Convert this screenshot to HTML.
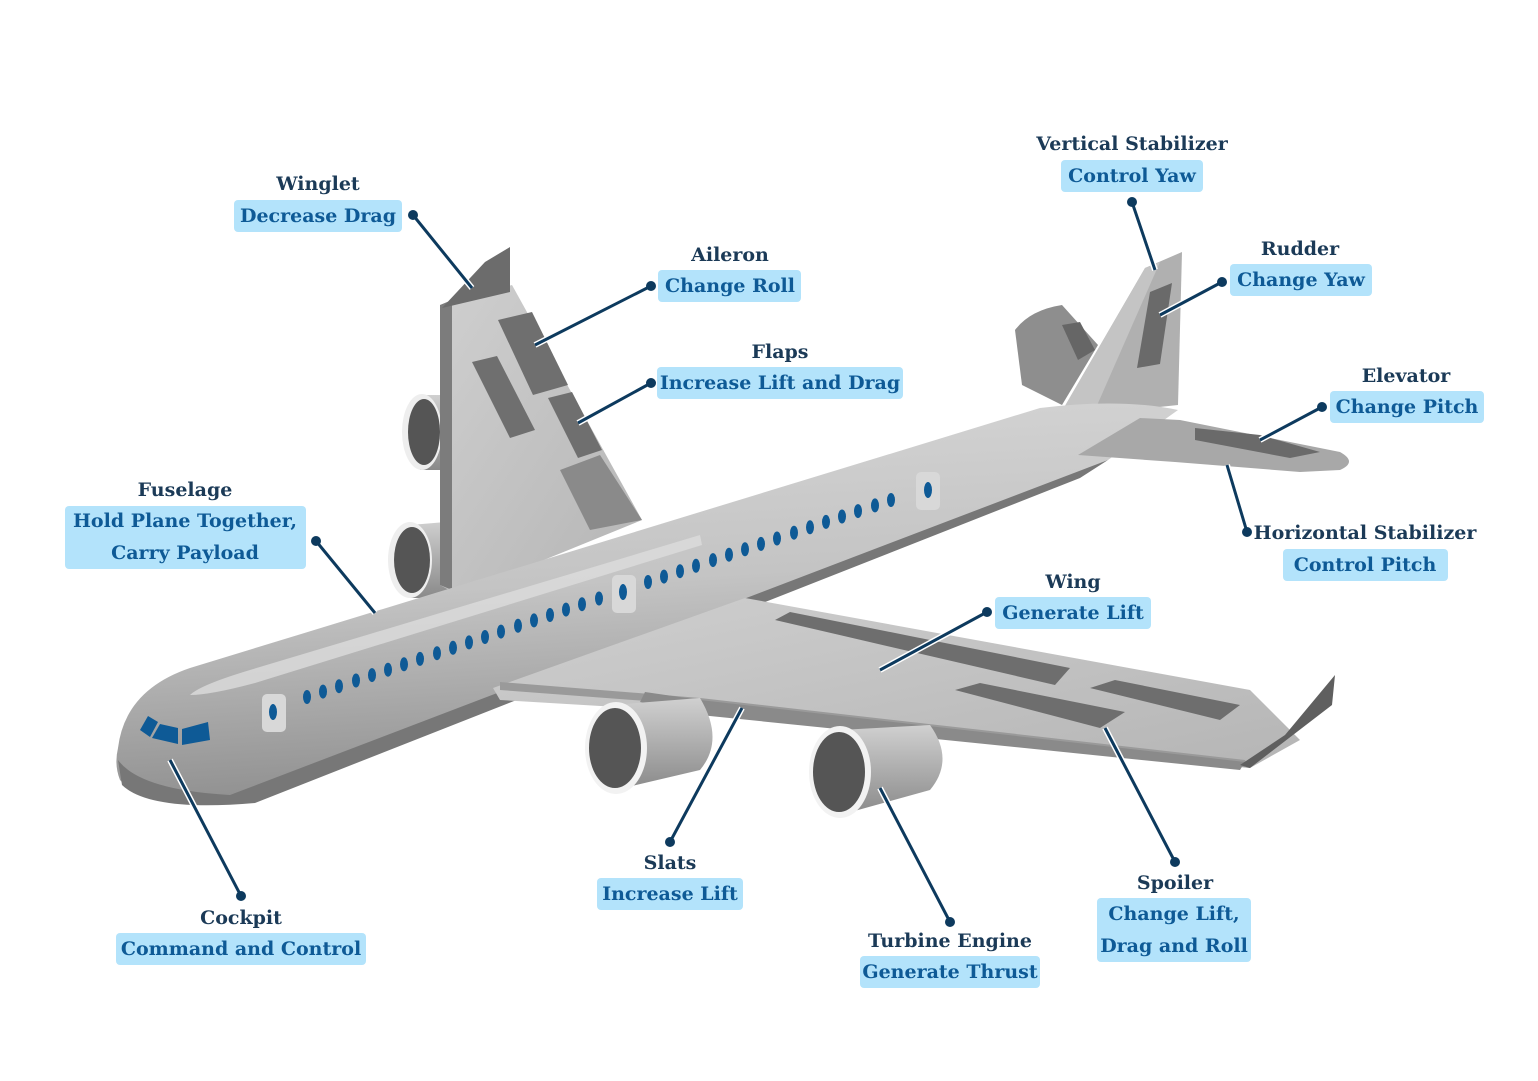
<!DOCTYPE html>
<html><head><meta charset="utf-8"><style>
html,body{margin:0;padding:0;background:#fff;}
svg{display:block}
.t{font-family:"DejaVu Serif","Liberation Serif",serif;font-weight:bold;font-size:19px;fill:#1b3a57;text-anchor:middle}
.b{font-family:"DejaVu Serif","Liberation Serif",serif;font-weight:bold;font-size:19px;fill:#0e5a96;text-anchor:middle}
.bx{fill:#b3e3fb}
.ln{stroke:#0d3a5e;stroke-width:3;fill:none}
.ln2{stroke:#fff;stroke-width:6;fill:none}
.d{fill:#0d3a5e}
</style></head><body>
<svg width="1538" height="1081" viewBox="0 0 1538 1081" xmlns="http://www.w3.org/2000/svg">
<defs>
<linearGradient id="fus" x1="0" y1="0" x2="0.15" y2="1">
<stop offset="0" stop-color="#d6d6d6"/><stop offset="0.5" stop-color="#c4c4c4"/><stop offset="1" stop-color="#8f8f8f"/></linearGradient>
<linearGradient id="wing" x1="0" y1="0" x2="1" y2="1">
<stop offset="0" stop-color="#cfcfcf"/><stop offset="1" stop-color="#b5b5b5"/></linearGradient>
<linearGradient id="eng" x1="0" y1="0" x2="0" y2="1">
<stop offset="0" stop-color="#d0d0d0"/><stop offset="1" stop-color="#8a8a8a"/></linearGradient>
</defs>

<path d="M420,395 L470,395 L470,470 L420,470 Z" fill="url(#eng)"/>
<ellipse cx="422" cy="432" rx="20" ry="38" fill="#eee"/>
<ellipse cx="424" cy="432" rx="16" ry="33" fill="#555"/>
<path d="M410,525 L470,520 L470,598 L410,598 Z" fill="url(#eng)"/>
<ellipse cx="410" cy="560" rx="22" ry="38" fill="#eee"/>
<ellipse cx="412" cy="560" rx="18" ry="33" fill="#555"/>

<polygon points="440,305 512,285 642,520 458,595 440,585" fill="url(#wing)"/>
<polygon points="440,305 452,300 452,590 440,585" fill="#7c7c7c"/>
<polygon points="498,320 532,312 568,385 533,395" fill="#6f6f6f"/>
<polygon points="472,362 497,356 535,430 510,438" fill="#6f6f6f"/>
<polygon points="548,398 572,392 602,450 578,458" fill="#6f6f6f"/>
<polygon points="560,470 600,455 642,520 590,530" fill="#8a8a8a"/>
<polygon points="442,308 485,262 510,247 510,292" fill="#6c6c6c"/>

<path d="M1015,330 Q1030,310 1062,305 L1098,345 L1062,405 L1022,385 Z" fill="#8e8e8e"/>
<polygon points="1062,325 1080,322 1095,350 1078,360" fill="#666"/>

<polygon points="1058,418 1145,268 1182,252 1178,405" fill="#b0b0b0"/>
<polygon points="1058,418 1145,268 1160,262 1095,410" fill="#c4c4c4"/>
<polygon points="1150,292 1172,283 1160,364 1137,368" fill="#6a6a6a"/>

<path d="M118,748 Q125,690 190,668 L1040,408 Q1120,398 1178,410 L1108,460 L260,800 Q150,815 120,780 Q114,765 118,748 Z" fill="url(#fus)"/>
<path d="M118,760 Q140,790 230,795 L1108,460 L1080,478 L255,803 Q150,812 122,785 Z" fill="#777"/>
<path d="M190,695 Q200,685 250,670 L700,535 L702,545 L255,683 Q210,695 190,695 Z" fill="#dcdcdc" opacity="0.8"/>

<path d="M1078,455 L1140,418 L1180,420 L1340,452 Q1358,462 1340,470 L1300,472 L1175,462 Z" fill="#a8a8a8"/>
<polygon points="1195,428 1260,435 1320,452 1290,458 1195,440" fill="#6a6a6a"/>

<polygon points="493,688 745,598 1250,690 1300,740 1250,768 700,712 500,700" fill="url(#wing)"/>
<polygon points="500,690 700,705 1250,768 1245,760 700,698 500,682" fill="#9a9a9a"/>
<polygon points="775,620 790,612 1070,668 1055,685" fill="#6e6e6e"/>
<polygon points="955,690 980,683 1125,712 1100,728" fill="#6e6e6e"/>
<polygon points="1090,688 1115,680 1240,705 1220,720" fill="#6e6e6e"/>
<polygon points="645,692 700,700 1245,762 1240,770 700,715 640,702" fill="#8a8a8a"/>
<polygon points="1240,765 1285,735 1335,675 1332,705 1250,768" fill="#5f5f5f"/>

<path d="M612,705 L700,698 Q725,740 700,770 L615,790 Z" fill="url(#eng)"/>
<ellipse cx="616" cy="748" rx="31" ry="46" fill="#f2f2f2"/>
<ellipse cx="615" cy="748" rx="26" ry="40" fill="#555"/>
<path d="M840,730 L930,725 Q955,760 930,790 L840,815 Z" fill="url(#eng)"/>
<ellipse cx="840" cy="772" rx="31" ry="46" fill="#f2f2f2"/>
<ellipse cx="839" cy="772" rx="26" ry="40" fill="#555"/>

<polygon points="140,730 148,716 158,722 150,737" fill="#0e5a96"/>
<polygon points="152,738 160,724 178,728 178,744" fill="#0e5a96"/>
<polygon points="182,729 208,722 210,740 182,745" fill="#0e5a96"/>

<rect x="262" y="694" width="24" height="38" rx="5" fill="#d8d8d8"/>
<ellipse cx="273" cy="712" rx="4" ry="8" fill="#0e5a96"/>
<rect x="612" y="575" width="24" height="38" rx="5" fill="#d8d8d8"/>
<ellipse cx="623" cy="592" rx="4" ry="8" fill="#0e5a96"/>
<rect x="916" y="472" width="24" height="38" rx="5" fill="#d8d8d8"/>
<ellipse cx="928" cy="490" rx="4" ry="8" fill="#0e5a96"/>

<g fill="#0e5a96">
<ellipse cx="307" cy="697" rx="4" ry="7"/><ellipse cx="323" cy="691.6" rx="4" ry="7"/><ellipse cx="339" cy="686.2" rx="4" ry="7"/><ellipse cx="356" cy="680.5" rx="4" ry="7"/><ellipse cx="372" cy="675.1" rx="4" ry="7"/><ellipse cx="388" cy="669.7" rx="4" ry="7"/><ellipse cx="404" cy="664.3" rx="4" ry="7"/><ellipse cx="420" cy="658.9" rx="4" ry="7"/><ellipse cx="437" cy="653.2" rx="4" ry="7"/><ellipse cx="453" cy="647.8" rx="4" ry="7"/><ellipse cx="469" cy="642.4" rx="4" ry="7"/><ellipse cx="485" cy="637" rx="4" ry="7"/><ellipse cx="501" cy="631.6" rx="4" ry="7"/><ellipse cx="518" cy="625.8" rx="4" ry="7"/><ellipse cx="534" cy="620.4" rx="4" ry="7"/><ellipse cx="550" cy="615" rx="4" ry="7"/><ellipse cx="566" cy="609.6" rx="4" ry="7"/><ellipse cx="582" cy="604.2" rx="4" ry="7"/><ellipse cx="599" cy="598.5" rx="4" ry="7"/>
<ellipse cx="648" cy="582" rx="4" ry="7"/><ellipse cx="664" cy="576.6" rx="4" ry="7"/><ellipse cx="680" cy="571.2" rx="4" ry="7"/><ellipse cx="696" cy="565.8" rx="4" ry="7"/><ellipse cx="713" cy="560.1" rx="4" ry="7"/><ellipse cx="729" cy="554.7" rx="4" ry="7"/><ellipse cx="745" cy="549.3" rx="4" ry="7"/><ellipse cx="761" cy="543.9" rx="4" ry="7"/><ellipse cx="777" cy="538.5" rx="4" ry="7"/><ellipse cx="794" cy="532.7" rx="4" ry="7"/><ellipse cx="810" cy="527.3" rx="4" ry="7"/><ellipse cx="826" cy="521.9" rx="4" ry="7"/><ellipse cx="842" cy="516.5" rx="4" ry="7"/><ellipse cx="858" cy="511.1" rx="4" ry="7"/><ellipse cx="875" cy="505.4" rx="4" ry="7"/><ellipse cx="891" cy="500" rx="4" ry="7"/>
</g>

<g>
<path class="ln2" d="M413,215 L472,288 M651,286 L535,345 M651,383 L578,423 M1132,202 L1155,270 M1222,282 L1160,315 M1322,407 L1260,440 M1247,532 L1227,465 M316,541 L375,613 M987,612 L880,670 M670,842 L742,708 M241,896 L170,760 M950,922 L880,788 M1175,862 L1105,728"/>
<path class="ln" d="M413,215 L472,288 M651,286 L535,345 M651,383 L578,423 M1132,202 L1155,270 M1222,282 L1160,315 M1322,407 L1260,440 M1247,532 L1227,465 M316,541 L375,613 M987,612 L880,670 M670,842 L742,708 M241,896 L170,760 M950,922 L880,788 M1175,862 L1105,728"/>
<circle class="d" cx="413" cy="215" r="5"/><circle class="d" cx="651" cy="286" r="5"/><circle class="d" cx="651" cy="383" r="5"/><circle class="d" cx="1132" cy="202" r="5"/><circle class="d" cx="1222" cy="282" r="5"/><circle class="d" cx="1322" cy="407" r="5"/><circle class="d" cx="1247" cy="532" r="5"/><circle class="d" cx="316" cy="541" r="5"/><circle class="d" cx="987" cy="612" r="5"/><circle class="d" cx="670" cy="842" r="5"/><circle class="d" cx="241" cy="896" r="5"/><circle class="d" cx="950" cy="922" r="5"/><circle class="d" cx="1175" cy="862" r="5"/>
</g>

<text class="t" x="318" y="190">Winglet</text>
<rect class="bx" x="234" y="200" width="168" height="32" rx="4"/><text class="b" x="318" y="222">Decrease Drag</text>

<text class="t" x="730" y="261">Aileron</text>
<rect class="bx" x="658" y="270" width="143" height="32" rx="4"/><text class="b" x="730" y="292">Change Roll</text>

<text class="t" x="780" y="358">Flaps</text>
<rect class="bx" x="657" y="367" width="246" height="32" rx="4"/><text class="b" x="780" y="389">Increase Lift and Drag</text>

<text class="t" x="1132" y="150">Vertical Stabilizer</text>
<rect class="bx" x="1061" y="160" width="142" height="32" rx="4"/><text class="b" x="1132" y="182">Control Yaw</text>

<text class="t" x="1300" y="255">Rudder</text>
<rect class="bx" x="1230" y="264" width="142" height="32" rx="4"/><text class="b" x="1301" y="286">Change Yaw</text>

<text class="t" x="1406" y="382">Elevator</text>
<rect class="bx" x="1330" y="391" width="154" height="32" rx="4"/><text class="b" x="1407" y="413">Change Pitch</text>

<text class="t" x="1365" y="539">Horizontal Stabilizer</text>
<rect class="bx" x="1283" y="549" width="165" height="32" rx="4"/><text class="b" x="1365" y="571">Control Pitch</text>

<text class="t" x="185" y="496">Fuselage</text>
<rect class="bx" x="65" y="506" width="241" height="63" rx="4"/><text class="b" x="185" y="527">Hold Plane Together,</text><text class="b" x="185" y="559">Carry Payload</text>

<text class="t" x="1073" y="588">Wing</text>
<rect class="bx" x="995" y="597" width="156" height="32" rx="4"/><text class="b" x="1073" y="619">Generate Lift</text>

<text class="t" x="670" y="869">Slats</text>
<rect class="bx" x="597" y="878" width="146" height="32" rx="4"/><text class="b" x="670" y="900">Increase Lift</text>

<text class="t" x="241" y="924">Cockpit</text>
<rect class="bx" x="116" y="933" width="250" height="32" rx="4"/><text class="b" x="241" y="955">Command and Control</text>

<text class="t" x="950" y="947">Turbine Engine</text>
<rect class="bx" x="860" y="956" width="180" height="32" rx="4"/><text class="b" x="950" y="978">Generate Thrust</text>

<text class="t" x="1175" y="889">Spoiler</text>
<rect class="bx" x="1097" y="898" width="154" height="64" rx="4"/><text class="b" x="1174" y="920">Change Lift,</text><text class="b" x="1174" y="952">Drag and Roll</text>
</svg>
</body></html>
